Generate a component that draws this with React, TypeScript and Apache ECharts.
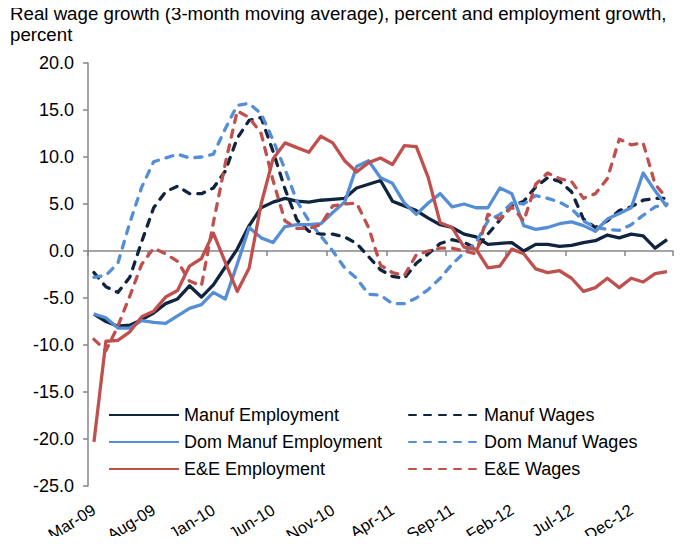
import React, { useEffect, useRef } from "react";
import * as echarts from "echarts";

const months = [
  "Mar-09", "Apr-09", "May-09", "Jun-09", "Jul-09", "Aug-09", "Sep-09", "Oct-09", "Nov-09", "Dec-09",
  "Jan-10", "Feb-10", "Mar-10", "Apr-10", "May-10", "Jun-10", "Jul-10", "Aug-10", "Sep-10", "Oct-10",
  "Nov-10", "Dec-10", "Jan-11", "Feb-11", "Mar-11", "Apr-11", "May-11", "Jun-11", "Jul-11", "Aug-11",
  "Sep-11", "Oct-11", "Nov-11", "Dec-11", "Jan-12", "Feb-12", "Mar-12", "Apr-12", "May-12", "Jun-12",
  "Jul-12", "Aug-12", "Sep-12", "Oct-12", "Nov-12", "Dec-12", "Jan-13", "Feb-13", "Mar-13",
];

const manufEmployment = [
  -6.7, -7.5, -8.0, -7.9, -7.3, -6.6, -5.6, -5.1, -3.7, -4.9,
  -3.6, -1.7, 0.2, 2.7, 4.6, 5.2, 5.6, 5.3, 5.2, 5.4,
  5.5, 5.6, 6.7, 7.1, 7.5, 5.3, 4.8, 4.3, 3.5, 2.8,
  2.5, 1.8, 1.5, 0.7, 0.8, 0.9, 0.0, 0.7, 0.7, 0.5,
  0.6, 0.9, 1.1, 1.7, 1.4, 1.8, 1.6, 0.3, 1.2,
];

const domManufEmployment = [
  -6.7, -7.1, -8.2, -8.2, -7.4, -7.6, -7.7, -6.9, -6.1, -5.7,
  -4.4, -5.1, -1.4, 2.5, 1.4, 0.9, 2.6, 2.8, 2.8, 2.9,
  4.1, 5.2, 9.0, 9.6, 7.8, 7.2, 5.1, 3.9, 5.1, 6.1,
  4.7, 5.0, 4.6, 4.6, 6.7, 6.1, 2.7, 2.3, 2.5, 2.9,
  3.1, 2.7, 2.1, 3.4, 4.0, 4.6, 8.3, 6.4, 4.7,
];

const eeEmployment = [
  -20.3, -9.6, -9.5, -8.6, -7.0, -6.4, -4.9, -4.2, -1.6, -0.8,
  1.9, -1.2, -4.3, -1.8, 5.0, 9.8, 11.5, 11.0, 10.5, 12.2,
  11.5, 9.6, 8.4, 9.4, 9.9, 9.2, 11.2, 11.1, 7.8, 3.0,
  2.5, 0.4, 0.2, -1.8, -1.6, 0.2, -0.3, -1.9, -2.3, -2.1,
  -2.9, -4.3, -3.9, -2.9, -3.9, -2.9, -3.3, -2.4, -2.2,
];

const manufWages = [
  -2.3, -3.8, -4.4, -2.8, 1.0, 4.6, 6.3, 6.9, 6.1, 6.1,
  6.7, 8.5, 12.0, 13.9, 14.2, 10.6, 6.6, 3.3, 2.1, 1.8,
  1.8, 1.5, 0.8, -0.6, -2.0, -2.7, -2.9, -1.3, -0.3, 0.8,
  1.2, 0.9, 0.3, 1.8, 3.3, 4.8, 5.3, 6.8, 7.8, 7.4,
  6.3, 3.4, 2.5, 3.2, 4.3, 4.7, 5.4, 5.6, 5.6,
];

const domManufWages = [
  -2.8, -2.6, -1.3, 3.0, 6.8, 9.5, 9.9, 10.3, 9.9, 10.0,
  10.3, 13.0, 15.5, 15.7, 14.6, 11.8, 8.7, 5.3, 3.2, 1.6,
  0.0, -1.8, -2.9, -4.6, -4.7, -5.6, -5.6, -5.0, -4.1, -2.9,
  -1.4, -0.2, 0.9, 3.2, 3.9, 5.1, 5.0, 5.9, 5.6, 5.2,
  4.5, 3.2, 2.5, 2.3, 2.2, 2.8, 3.8, 4.7, 5.0,
];

const eeWages = [
  -9.4, -10.6, -8.0, -4.8, -1.4, 0.3, -0.3, -1.1, -3.2, -3.7,
  3.0, 9.3, 14.9, 14.2, 12.5, 7.5, 3.2, 2.4, 2.4, 2.8,
  4.8, 5.0, 5.1, 2.5, -1.5, -2.3, -2.6, -0.4, 0.0, 0.3,
  0.3, 0.0, -0.3, 3.9, 3.4, 4.7, 3.2, 7.1, 8.3, 7.7,
  7.4, 5.6, 6.1, 7.7, 11.9, 11.3, 11.5, 7.1, 5.6,
];

const titleText =
  "Real wage growth (3-month moving average), percent and employment growth,\npercent";

const NAVY = "#0f243e";
const BLUE = "#558ed5";
const RED = "#c0504d";
const FONT = "Liberation Sans";

export default function App() {
  const ref = useRef<HTMLDivElement>(null);

  useEffect(() => {
    if (!ref.current) return;
    const chart = echarts.init(ref.current, null, { renderer: "svg" });

    const mk = (name: string, data: number[], color: string, dashed: boolean) => ({
      name,
      type: "line",
      data,
      xAxisIndex: 0,
      symbol: "none",
      symbolSize: 0,
      showSymbol: false,
      lineStyle: {
        color,
        width: 3.3,
        type: dashed ? [7, 8] : "solid",
        cap: dashed ? "round" : "butt",
        join: "round",
      },
      itemStyle: { color },
      emphasis: { disabled: true },
    });

    const legendCommon = {
      orient: "vertical",
      top: 405,
      itemWidth: 70,
      itemHeight: 14,
      itemGap: 7,
      padding: 0,
      selectedMode: false,
      itemStyle: { opacity: 0, borderWidth: 0 },
      textStyle: { fontSize: 18, fontFamily: FONT, color: "#000", lineHeight: 20 },
    };

    chart.setOption({
      animation: false,
      backgroundColor: "#fff",
      title: {
        text: titleText,
        left: 10,
        top: 3,
        padding: 0,
        textStyle: {
          fontSize: 18.7,
          fontWeight: "normal",
          fontFamily: FONT,
          color: "#000",
          lineHeight: 21,
        },
      },
      legend: [
        { ...legendCommon, left: 108, data: ["Manuf Employment", "Dom Manuf Employment", "E&E Employment"] },
        { ...legendCommon, left: 408, data: ["Manuf Wages", "Dom Manuf Wages", "E&E Wages"] },
      ],
      grid: { left: 88, right: 10, top: 63, bottom: 58, containLabel: false, outerBoundsMode: "none" },
      xAxis: [
        {
          type: "category",
          data: months,
          boundaryGap: true,
          position: "bottom",
          axisLine: { show: false, onZero: false },
          axisTick: { show: false },
          axisLabel: {
            interval: 4,
            rotate: 32,
            margin: 22,
            fontSize: 16.5,
            fontFamily: FONT,
            color: "#000",
          },
          splitLine: { show: false },
        },
        {
          type: "category",
          data: months,
          boundaryGap: true,
          position: "bottom",
          axisLine: { show: true, onZero: true, lineStyle: { color: "#868686", width: 1.5 } },
          axisTick: { show: true, interval: 4, length: 5, inside: false, lineStyle: { color: "#868686", width: 1.5 } },
          axisLabel: { show: false },
          splitLine: { show: false },
        },
      ],
      yAxis: {
        type: "value",
        min: -25,
        max: 20,
        interval: 5,
        axisLine: { show: true, lineStyle: { color: "#868686", width: 1.5 } },
        axisTick: { show: true, length: 5, lineStyle: { color: "#868686", width: 1.5 } },
        axisLabel: {
          fontSize: 18,
          fontFamily: FONT,
          color: "#000",
          margin: 14,
          formatter: (v: number) => v.toFixed(1),
        },
        splitLine: { show: false },
      },
      series: [
        mk("Manuf Employment", manufEmployment, NAVY, false),
        mk("Manuf Wages", manufWages, NAVY, true),
        mk("Dom Manuf Employment", domManufEmployment, BLUE, false),
        mk("Dom Manuf Wages", domManufWages, BLUE, true),
        mk("E&E Employment", eeEmployment, RED, false),
        mk("E&E Wages", eeWages, RED, true),
      ],
    });

    return () => chart.dispose();
  }, []);

  return <div ref={ref} style={{ width: 683, height: 544, margin: -8 }} />;
}
